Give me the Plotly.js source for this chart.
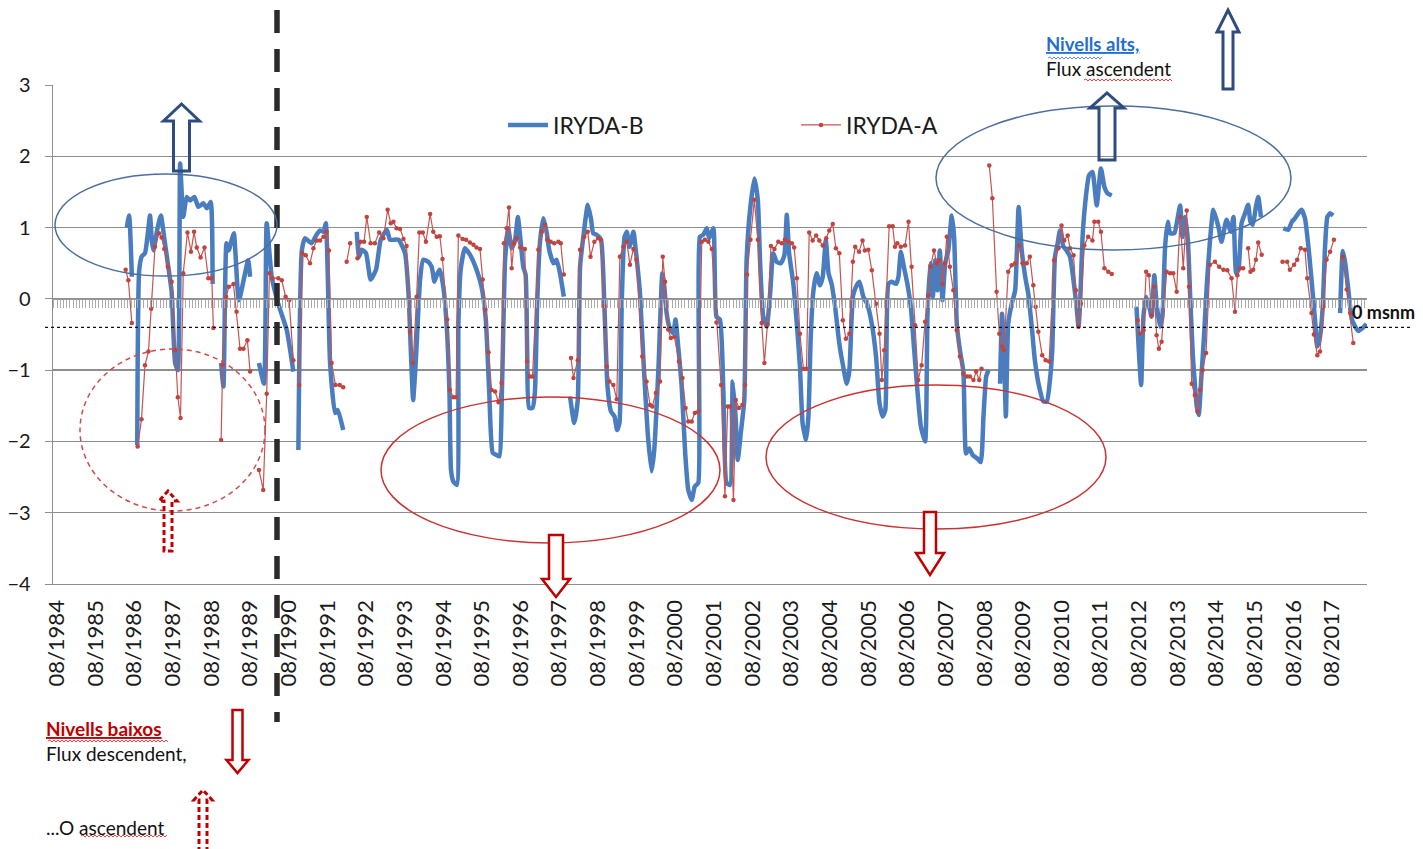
<!DOCTYPE html>
<html><head><meta charset="utf-8">
<script src="https://cdn.plot.ly/plotly-3.0.1.min.js"></script>
<style>html,body{margin:0;padding:0;background:#fff}#chart{width:1423px;height:849px}</style>
</head><body><div id="chart"></div>
<script>
const seriesNames = ['IRYDA-B', 'IRYDA-A'];
const tickLabels = ['08/1984','08/1985','08/1986','08/1987','08/1988','08/1989','08/1990','08/1991','08/1992','08/1993','08/1994','08/1995','08/1996','08/1997','08/1998','08/1999','08/2000','08/2001','08/2002','08/2003','08/2004','08/2005','08/2006','08/2007','08/2008','08/2009','08/2010','08/2011','08/2012','08/2013','08/2014','08/2015','08/2016','08/2017'];
const yTicks = [-4,-3,-2,-1,0,1,2,3];
const refLevel = -0.4;
const refLabel = '0 msnm';

// IRYDA-B: [decimal year, level]; null = gap in record
const blueLevels = [
[1986.39,1.0],[1986.45,1.17],[1986.52,0.31],[1986.58,null],
[1986.66,-2.05],[1986.71,0.4],[1986.78,0.6],[1986.86,0.64],[1986.93,0.9],[1986.99,1.17],[1987.04,0.8],[1987.08,0.68],[1987.17,0.95],[1987.27,1.17],[1987.36,0.85],[1987.45,0.5],[1987.55,0.1],[1987.64,-0.9],[1987.71,-1.0],[1987.77,1.9],[1987.85,1.15],[1987.94,1.43],[1988.03,1.38],[1988.14,1.43],[1988.24,1.29],[1988.37,1.34],[1988.46,1.27],[1988.56,1.36],[1988.61,0.21],[1988.7,null],
[1988.83,-0.9],[1988.89,-1.23],[1988.97,0.78],[1989.03,0.68],[1989.1,0.82],[1989.16,0.92],[1989.29,-0.02],[1989.53,0.54],[1989.58,0.31],[1989.7,null],
[1989.81,-0.9],[1989.94,-1.19],[1990.01,1.06],[1990.14,0.31],[1990.31,-0.07],[1990.53,-0.44],[1990.7,-1.02],[1990.77,null],
[1990.83,-2.12],[1990.92,0.68],[1991.0,0.85],[1991.17,0.78],[1991.3,0.9],[1991.39,0.96],[1991.48,0.94],[1991.54,1.06],[1991.65,-0.9],[1991.78,-1.6],[1991.85,-1.56],[1991.99,-1.84],[1992.2,null],
[1992.34,0.94],[1992.4,0.59],[1992.47,0.69],[1992.58,0.64],[1992.7,0.27],[1992.84,0.41],[1992.96,0.83],[1993.12,0.97],[1993.2,0.83],[1993.42,0.83],[1993.59,0.64],[1993.68,0.08],[1993.75,-0.86],[1993.8,-1.42],[1993.87,-0.86],[1993.98,0.27],[1994.06,0.55],[1994.19,0.52],[1994.28,0.45],[1994.35,0.24],[1994.43,0.36],[1994.49,0.41],[1994.58,0.17],[1994.67,-0.39],[1994.74,-1.32],[1994.78,-2.4],[1994.84,-2.56],[1994.93,-2.61],[1994.97,-0.39],[1995.03,0.41],[1995.14,0.71],[1995.27,0.62],[1995.44,0.41],[1995.57,0.17],[1995.68,-0.29],[1995.77,-1.32],[1995.86,-2.16],[1995.96,-2.19],[1996.03,-2.21],[1996.1,-1.23],[1996.18,0.55],[1996.26,0.99],[1996.35,0.71],[1996.44,0.83],[1996.51,1.15],[1996.57,0.87],[1996.65,0.45],[1996.71,0.34],[1996.75,-0.67],[1996.8,-1.53],[1996.89,-1.53],[1996.95,-1.32],[1997.01,-0.06],[1997.08,0.78],[1997.17,1.13],[1997.26,0.92],[1997.32,0.69],[1997.43,0.5],[1997.51,0.55],[1997.6,0.36],[1997.7,0.03],[1997.78,null],
[1997.86,-1.37],[1997.97,-1.74],[1998.06,-1.42],[1998.12,0.45],[1998.2,0.85],[1998.32,1.32],[1998.4,1.13],[1998.46,0.92],[1998.55,0.9],[1998.66,0.83],[1998.75,-0.11],[1998.83,-1.23],[1998.92,-1.58],[1999.01,-1.65],[1999.08,-1.84],[1999.14,-1.74],[1999.2,-0.01],[1999.27,0.87],[1999.33,0.94],[1999.4,0.73],[1999.5,0.94],[1999.58,0.59],[1999.67,0.08],[1999.76,-0.86],[1999.87,-1.88],[1999.97,-2.42],[2000.04,-2.12],[2000.15,-0.95],[2000.25,0.36],[2000.3,0.17],[2000.36,-0.2],[2000.45,-0.43],[2000.53,-0.48],[2000.59,-0.29],[2000.66,-0.67],[2000.75,-1.23],[2000.84,-2.16],[2000.92,-2.68],[2001.01,-2.82],[2001.09,-2.63],[2001.18,-2.58],[2001.22,0.87],[2001.31,0.9],[2001.4,0.99],[2001.46,0.85],[2001.57,0.99],[2001.65,-0.25],[2001.74,-0.29],[2001.83,-1.32],[2001.91,-2.58],[2002.0,-2.61],[2002.07,-1.16],[2002.15,-1.7],[2002.2,-2.26],[2002.28,-1.88],[2002.37,-1.42],[2002.43,0.55],[2002.52,1.25],[2002.63,1.69],[2002.72,1.39],[2002.78,0.5],[2002.86,-0.25],[2002.95,-0.39],[2003.04,0.08],[2003.12,0.64],[2003.21,0.52],[2003.32,0.5],[2003.41,0.62],[2003.47,1.18],[2003.53,0.64],[2003.64,0.21],[2003.73,-0.35],[2003.81,-0.95],[2003.88,-1.75],[2003.97,-1.98],[2004.03,-1.65],[2004.09,-0.53],[2004.16,0.12],[2004.24,0.36],[2004.33,0.19],[2004.4,0.31],[2004.48,0.82],[2004.55,0.36],[2004.63,0.21],[2004.72,-0.11],[2004.83,-0.63],[2004.93,-0.95],[2005.02,-1.19],[2005.09,-1.0],[2005.18,0.03],[2005.26,0.17],[2005.35,0.24],[2005.45,0.03],[2005.55,-0.07],[2005.67,-0.35],[2005.78,-0.81],[2005.87,-1.47],[2005.95,-1.65],[2006.02,-1.56],[2006.1,0.21],[2006.18,0.24],[2006.3,0.21],[2006.36,0.31],[2006.42,0.66],[2006.5,0.45],[2006.59,0.21],[2006.68,-0.11],[2006.76,-0.67],[2006.85,-1.28],[2006.94,-1.79],[2007.05,-2.0],[2007.11,-0.25],[2007.18,0.5],[2007.25,0.03],[2007.31,0.54],[2007.37,0.12],[2007.43,0.68],[2007.5,-0.02],[2007.57,0.5],[2007.65,0.68],[2007.74,1.17],[2007.8,0.87],[2007.87,-0.35],[2007.95,-0.72],[2008.04,-1.02],[2008.11,-2.17],[2008.19,-2.1],[2008.28,-2.19],[2008.4,-2.24],[2008.49,-2.29],[2008.56,-1.65],[2008.63,-1.09],[2008.69,-1.0],[2008.8,null],
[2008.99,-1.19],[2009.04,-0.21],[2009.09,-0.72],[2009.14,-1.65],[2009.2,-0.35],[2009.29,-0.07],[2009.38,0.12],[2009.47,1.29],[2009.55,0.68],[2009.64,0.31],[2009.72,0.07],[2009.81,-0.39],[2009.89,-0.86],[2010.0,-1.23],[2010.11,-1.44],[2010.2,-1.44],[2010.28,-1.14],[2010.34,-0.72],[2010.41,0.59],[2010.48,0.78],[2010.54,0.96],[2010.63,0.73],[2010.71,0.68],[2010.8,0.59],[2010.89,0.26],[2010.97,-0.11],[2011.02,-0.39],[2011.06,-0.07],[2011.13,0.92],[2011.21,1.43],[2011.29,1.73],[2011.38,1.78],[2011.49,1.31],[2011.6,1.83],[2011.69,1.57],[2011.77,1.48],[2011.88,1.45],[2012.2,null],
[2012.52,-0.11],[2012.58,-0.72],[2012.64,-1.21],[2012.7,-0.25],[2012.77,0.03],[2012.85,-0.11],[2012.91,-0.25],[2012.98,0.33],[2013.04,-0.07],[2013.13,-0.39],[2013.19,-0.25],[2013.26,0.73],[2013.33,1.08],[2013.39,0.92],[2013.5,0.92],[2013.59,1.15],[2013.65,1.31],[2013.71,0.87],[2013.78,1.15],[2013.85,0.82],[2013.91,0.03],[2013.98,-0.81],[2014.03,-1.19],[2014.08,-1.51],[2014.13,-1.63],[2014.2,-1.09],[2014.27,-0.5],[2014.34,0.2],[2014.42,0.8],[2014.51,1.25],[2014.64,1.01],[2014.72,0.8],[2014.85,1.11],[2014.96,0.94],[2015.03,1.15],[2015.1,0.36],[2015.16,0.41],[2015.24,1.06],[2015.33,1.2],[2015.41,1.32],[2015.47,1.08],[2015.53,1.04],[2015.61,1.29],[2015.67,1.43],[2015.74,1.15],[2016.0,null],
[2016.32,0.99],[2016.45,0.97],[2016.54,1.08],[2016.62,1.13],[2016.71,1.2],[2016.79,1.25],[2016.88,1.13],[2016.97,0.73],[2017.05,0.27],[2017.14,-0.29],[2017.2,-0.67],[2017.27,-0.53],[2017.34,-0.11],[2017.4,0.73],[2017.46,1.15],[2017.53,1.2],[2017.61,1.17],[2017.7,null],
[2017.79,-0.2],[2017.86,0.67],[2017.92,0.51],[2018.0,0.14],[2018.09,-0.28],[2018.17,-0.38],[2018.26,-0.45],[2018.39,-0.4],[2018.47,-0.35]
];

// IRYDA-A: [decimal year, level]; null = gap in record
const redLevels = [
[1986.36,0.41],[1986.43,0.26],[1986.52,-0.34],[1986.6,null],
[1986.67,-2.07],[1986.77,-1.69],[1986.86,-0.93],[1986.95,-0.74],[1987.02,-0.14],[1987.12,0.73],[1987.22,0.92],[1987.29,0.86],[1987.36,0.7],[1987.45,0.45],[1987.55,0.24],[1987.64,-0.72],[1987.71,-1.38],[1987.78,-1.67],[1987.85,0.36],[1987.96,0.93],[1988.05,0.66],[1988.13,0.94],[1988.2,0.72],[1988.3,0.58],[1988.4,0.72],[1988.5,0.29],[1988.59,0.29],[1988.63,-0.41],[1988.75,null],
[1988.83,-1.98],[1988.87,-0.92],[1988.96,0.03],[1989.03,0.17],[1989.15,0.21],[1989.23,-0.18],[1989.32,-0.7],[1989.41,-0.7],[1989.51,-0.58],[1989.58,-1.02],[1989.7,null],
[1989.81,-2.4],[1989.92,-2.68],[1990.01,-1.33],[1990.08,0.36],[1990.16,0.29],[1990.31,0.29],[1990.4,0.26],[1990.5,0.03],[1990.59,-0.02],[1990.7,-0.86],[1990.77,null],
[1990.85,-1.21],[1990.93,0.64],[1991.02,0.61],[1991.13,0.5],[1991.22,0.71],[1991.3,0.82],[1991.39,0.82],[1991.48,0.87],[1991.56,0.94],[1991.62,0.68],[1991.69,-0.9],[1991.79,-1.21],[1991.9,-1.21],[1991.99,-1.24],[1992.03,null],
[1992.08,0.52],[1992.17,0.78],[1992.25,null],
[1992.36,0.57],[1992.44,0.8],[1992.53,0.8],[1992.6,1.15],[1992.7,0.78],[1992.81,0.78],[1992.92,0.93],[1993.03,0.85],[1993.14,1.25],[1993.22,1.06],[1993.29,1.08],[1993.37,0.99],[1993.46,0.98],[1993.55,0.84],[1993.63,0.74],[1993.72,-0.46],[1993.8,-0.9],[1993.89,0.03],[1993.96,0.93],[1994.05,0.93],[1994.13,0.8],[1994.24,1.19],[1994.32,0.94],[1994.41,0.87],[1994.49,0.88],[1994.56,0.56],[1994.68,-0.29],[1994.75,-1.28],[1994.84,-1.38],[1994.91,-1.38],[1994.97,0.89],[1995.08,0.84],[1995.17,0.83],[1995.27,0.79],[1995.36,0.76],[1995.44,0.72],[1995.53,0.7],[1995.6,0.27],[1995.67,-0.15],[1995.75,-0.75],[1995.83,-1.28],[1995.92,-1.3],[1996.01,-1.45],[1996.09,-1.18],[1996.15,0.78],[1996.22,0.99],[1996.28,1.28],[1996.35,0.43],[1996.41,0.78],[1996.48,0.85],[1996.57,0.72],[1996.69,0.7],[1996.75,-0.88],[1996.82,-1.09],[1996.89,-1.09],[1997.04,0.69],[1997.13,0.94],[1997.21,1.04],[1997.27,0.83],[1997.36,0.8],[1997.45,0.78],[1997.56,0.8],[1997.62,0.78],[1997.7,0.34],[1997.8,null],
[1997.885,-0.83],[1997.95,-1.11],[1998.06,-0.86],[1998.12,0.69],[1998.23,0.87],[1998.32,0.94],[1998.39,0.59],[1998.49,0.8],[1998.59,0.85],[1998.66,0.83],[1998.75,-0.1],[1998.81,-0.95],[1998.88,-1.16],[1998.98,-1.21],[1999.07,-1.41],[1999.15,0.59],[1999.24,0.73],[1999.33,0.8],[1999.41,0.48],[1999.5,0.7],[1999.58,0.55],[1999.73,-0.81],[1999.84,-1.16],[1999.93,-1.49],[1999.99,-1.51],[2000.08,-1.32],[2000.19,-1.16],[2000.26,0.59],[2000.32,0.24],[2000.4,-0.43],[2000.47,-0.55],[2000.56,-0.53],[2000.68,-0.88],[2000.77,-1.11],[2000.85,-1.53],[2000.92,-1.72],[2001.01,-1.72],[2001.09,-1.6],[2001.18,-1.58],[2001.27,0.8],[2001.35,0.83],[2001.44,0.8],[2001.53,0.7],[2001.65,-0.33],[2001.77,-1.21],[2001.87,-2.77],[2001.94,-1.51],[2002.0,-1.51],[2002.09,-2.82],[2002.15,-1.42],[2002.23,-1.53],[2002.32,-1.49],[2002.39,-1.21],[2002.44,0.34],[2002.53,0.83],[2002.63,1.39],[2002.72,0.83],[2002.82,-0.34],[2002.89,-0.9],[2002.97,-0.36],[2003.06,0.74],[2003.15,0.7],[2003.25,0.8],[2003.34,0.78],[2003.42,0.83],[2003.51,0.8],[2003.6,0.78],[2003.66,0.72],[2003.73,0.29],[2003.81,-0.49],[2003.9,-0.98],[2003.98,-0.98],[2004.05,0.93],[2004.14,0.82],[2004.23,0.89],[2004.31,0.82],[2004.4,0.75],[2004.49,0.85],[2004.57,0.96],[2004.66,1.05],[2004.74,0.71],[2004.83,0.64],[2004.92,-0.3],[2005.0,-0.56],[2005.09,-0.49],[2005.18,0.52],[2005.24,0.73],[2005.34,0.66],[2005.43,0.82],[2005.49,0.68],[2005.58,0.69],[2005.67,0.4],[2005.78,-0.07],[2005.87,-0.49],[2005.93,-1.14],[2005.99,-0.72],[2006.12,1.02],[2006.21,1.02],[2006.27,0.73],[2006.33,0.78],[2006.42,0.73],[2006.53,0.75],[2006.62,1.08],[2006.7,0.45],[2006.79,-0.37],[2006.87,-1.14],[2006.96,-0.93],[2007.05,-0.32],[2007.13,0.05],[2007.19,0.45],[2007.28,0.68],[2007.35,0.5],[2007.42,0.54],[2007.5,0.21],[2007.56,0.5],[2007.61,0.87],[2007.69,0.45],[2007.78,0.12],[2007.87,-0.44],[2007.95,-0.81],[2008.04,-1.05],[2008.13,-1.09],[2008.21,-1.09],[2008.3,-1.14],[2008.37,-1.02],[2008.45,-1.14],[2008.51,-0.98],[2008.6,null],
[2008.71,1.87],[2008.79,1.41],[2008.9,0.1],[2008.97,-0.49],[2009.04,-0.67],[2009.09,-0.72],[2009.2,0.38],[2009.29,0.47],[2009.38,0.5],[2009.48,0.75],[2009.57,0.5],[2009.68,0.5],[2009.76,0.59],[2009.85,0.19],[2009.91,-0.11],[2009.98,-0.46],[2010.08,-0.79],[2010.17,-0.86],[2010.26,-0.88],[2010.39,0.54],[2010.5,0.71],[2010.58,1.03],[2010.65,0.82],[2010.74,0.89],[2010.8,0.71],[2010.89,0.61],[2010.95,0.12],[2011.02,-0.39],[2011.08,-0.07],[2011.17,0.75],[2011.27,0.87],[2011.38,0.82],[2011.43,1.08],[2011.53,1.08],[2011.6,0.94],[2011.69,0.43],[2011.79,0.38],[2011.88,0.35],[2012.2,null],
[2012.55,-0.3],[2012.61,-0.49],[2012.7,-0.44],[2012.77,0.38],[2012.84,0.33],[2012.91,-0.23],[2012.98,0.17],[2013.04,-0.51],[2013.1,-0.7],[2013.17,-0.6],[2013.3,0.38],[2013.39,0.36],[2013.47,0.36],[2013.56,0.1],[2013.65,1.15],[2013.73,0.43],[2013.82,1.24],[2013.88,0.17],[2013.95,-1.19],[2014.03,-1.35],[2014.1,-1.58],[2014.16,-1.28],[2014.23,-1.0],[2014.32,-0.76],[2014.42,0.48],[2014.55,0.52],[2014.66,0.45],[2014.77,0.41],[2014.87,0.4],[2014.98,0.29],[2015.07,-0.18],[2015.13,0.33],[2015.2,0.43],[2015.28,0.43],[2015.34,null],
[2015.41,0.71],[2015.47,0.38],[2015.54,0.41],[2015.61,0.55],[2015.67,0.79],[2015.76,0.62],[2016.0,null],
[2016.3,0.52],[2016.42,0.52],[2016.49,0.41],[2016.6,0.48],[2016.68,0.55],[2016.77,0.71],[2016.88,0.69],[2016.94,0.29],[2017.05,-0.2],[2017.11,-0.5],[2017.2,-0.79],[2017.27,-0.74],[2017.35,-0.11],[2017.44,0.55],[2017.53,0.66],[2017.63,0.83],[2017.72,null],
[2017.86,0.59],[2017.96,0.13],[2018.05,-0.2],[2018.13,-0.62]
];

// ---------- geometry (pixels of the 1423x849 picture) ----------
const W = 1423, H = 849, L = 53, R = 1367, T = 85, B = 584;
const xAt = px => (px - L) / (R - L);
const yAt = py => (B - py) / (B - T);
const yearAt = px => 1984.583 + (px - 57) / 38.64;
const FONT = 'Lato, "Open Sans", sans-serif';

const tickVals = tickLabels.map(t => +t.slice(3) + (+t.slice(0, 2) - 1) / 12);
const xRange = [yearAt(L), yearAt(R)];

function arrow(cx, tail, tip, sh, hh, hl, color, width, dash, fill) {
  const base = tail > tip ? tip + hl : tip - hl;
  const pts = [[cx - sh, tail], [cx - sh, base], [cx - hh, base], [cx, tip], [cx + hh, base], [cx + sh, base], [cx + sh, tail]];
  return {
    type: 'path', xref: 'paper', yref: 'paper',
    path: 'M' + pts.map(p => xAt(p[0]) + ',' + yAt(p[1])).join('L') + 'Z',
    line: { color, width, dash: dash || 'solid' },
    fillcolor: fill || 'rgba(0,0,0,0)'
  };
}
function ellipse(x0, x1, y0, y1, color, dash) {
  return { type: 'circle', xref: 'paper', yref: 'paper', x0: xAt(x0), x1: xAt(x1), y0: yAt(y1), y1: yAt(y0),
    line: { color, width: 1.5, dash: dash || 'solid' }, fillcolor: 'rgba(0,0,0,0)' };
}
function squiggle(x0, x1, y, color) {
  let d = 'M' + xAt(x0) + ',' + yAt(y); let up = true;
  for (let x = x0 + 2; x <= x1; x += 2) { d += 'L' + xAt(x) + ',' + yAt(y + (up ? -1.1 : 1.1)); up = !up; }
  return { type: 'path', xref: 'paper', yref: 'paper', path: d, line: { color, width: 0.9 } };
}
function label(px, py, text, size, color) {
  return { xref: 'paper', yref: 'paper', x: xAt(px), y: yAt(py), xanchor: 'left', yanchor: 'middle',
    text, showarrow: false, font: { family: FONT, size, color } };
}

const traces = [
  { x: blueLevels.map(p => p[0]), y: blueLevels.map(p => p[1]), name: seriesNames[0], type: 'scatter', mode: 'lines',
    line: { color: '#4A7DBF', width: 4.5, shape: 'spline', smoothing: 0.5 }, connectgaps: false, hoverinfo: 'skip' },
  { x: redLevels.map(p => p[0]), y: redLevels.map(p => p[1]), name: seriesNames[1], type: 'scatter', mode: 'lines+markers',
    line: { color: '#C65450', width: 1.2 }, marker: { size: 4.5, color: '#C0443F' }, connectgaps: false, hoverinfo: 'skip' },
  { x: [null], y: [null], xaxis: 'x2', yaxis: 'y', showlegend: false, hoverinfo: 'skip', mode: 'lines' }
];

const BLUE_ARROW = '#2E4C7E', RED_ARROW = '#C00000';
const shapes = [
  { type: 'line', xref: 'paper', yref: 'y', x0: xAt(45), x1: xAt(1410), y0: refLevel, y1: refLevel,
    line: { color: '#111', width: 1.2, dash: '3px,3px' } },
  { type: 'line', xref: 'paper', yref: 'paper', x0: xAt(277), x1: xAt(277), y0: yAt(10), y1: yAt(722),
    line: { color: '#2B2B2B', width: 5.5, dash: '23px,16px' } },
  ellipse(55, 277, 174, 276, '#4C6E9E'),
  ellipse(936, 1291, 106, 250, '#4C6E9E'),
  ellipse(80, 265, 349, 511, '#D24B4B', '5px,4px'),
  ellipse(381, 720, 397, 543, '#C83434'),
  ellipse(766, 1106, 385, 529, '#C83434'),
  arrow(181.5, 171, 104, 8, 18, 17, BLUE_ARROW, 3),
  arrow(1107, 160, 93, 8, 17, 15, BLUE_ARROW, 3),
  arrow(1228, 89, 10, 5, 11, 22, BLUE_ARROW, 3),
  arrow(556, 535, 597, 7, 14, 18, RED_ARROW, 2.5, null, '#fff'),
  arrow(930, 512, 575, 6, 14, 22, RED_ARROW, 2.5, null, '#fff'),
  arrow(237.5, 710, 773, 5, 11, 13, RED_ARROW, 2.5, null, '#fff'),
  arrow(203, 852, 790, 4, 9, 10, RED_ARROW, 3, '5px,3px'),
  arrow(168, 551, 491, 4, 9, 10, RED_ARROW, 3, '5px,3px'),
  squiggle(1048, 1102, 58, '#5B7FB8'),
  squiggle(1084, 1172, 80, '#E03030'),
  squiggle(48, 168, 741, '#E03030'),
  squiggle(81, 168, 836, '#E03030')
];

const annotations = [
  label(1350, 312, '<b>' + refLabel + '</b>', 18, '#111'),
  label(1044, 44, '<b><u>Nivells alts,</u></b>', 18.5, '#1F6FD6'),
  label(1044, 69, 'Flux ascendent', 19, '#111'),
  label(44, 728, '<b><u>Nivells baixos</u></b>', 19, '#C00000'),
  label(44, 753, 'Flux descendent,', 19, '#111'),
  label(44, 827, '...O ascendent', 19, '#111')
];

const layout = {
  width: W, height: H, autosize: false,
  margin: { l: L, r: W - R, t: T, b: H - B, pad: 0 },
  paper_bgcolor: '#fff', plot_bgcolor: '#fff',
  font: { family: FONT, color: '#1a1a1a' },
  showlegend: true,
  legend: { orientation: 'h', x: xAt(503), y: yAt(125), xanchor: 'left', yanchor: 'middle',
    font: { family: FONT, size: 23, color: '#1a1a1a' }, bgcolor: 'rgba(0,0,0,0)',
    entrywidth: 238, entrywidthmode: 'pixels', itemwidth: 40, traceorder: 'normal' },
  xaxis: { type: 'linear', range: xRange, tickmode: 'array', tickvals: tickVals, ticktext: tickLabels,
    tickangle: -90, tickfont: { family: FONT, size: 22, color: '#1a1a1a' }, ticks: '', ticklabelstandoff: 6,
    showgrid: false, zeroline: false, showline: true, linecolor: '#8E8E8E', linewidth: 1.3, fixedrange: true },
  xaxis2: { overlaying: 'x', anchor: 'free', position: (0 - yTicks[0]) / (yTicks[yTicks.length - 1] - yTicks[0]),
    side: 'bottom', type: 'linear', range: xRange, tickmode: 'linear', tick0: tickVals[0], dtick: 1 / 12,
    ticks: 'outside', ticklen: 8, tickwidth: 1, tickcolor: '#ABABAB', showticklabels: false,
    showline: true, linecolor: '#9A9A9A', linewidth: 1.5, showgrid: false, zeroline: false, fixedrange: true },
  yaxis: { range: [yTicks[0], yTicks[yTicks.length - 1]], tickmode: 'array', tickvals: yTicks,
    tickfont: { family: FONT, size: 20, color: '#1a1a1a' }, ticks: 'outside', ticklen: 7, tickcolor: '#8E8E8E',
    ticklabelstandoff: 10, showgrid: true, gridcolor: '#8E8E8E', gridwidth: 1.3, zeroline: false,
    showline: true, linecolor: '#8E8E8E', linewidth: 1.3, fixedrange: true },
  shapes, annotations
};

Plotly.newPlot('chart', traces, layout, { staticPlot: true, displayModeBar: false });
</script></body></html>
